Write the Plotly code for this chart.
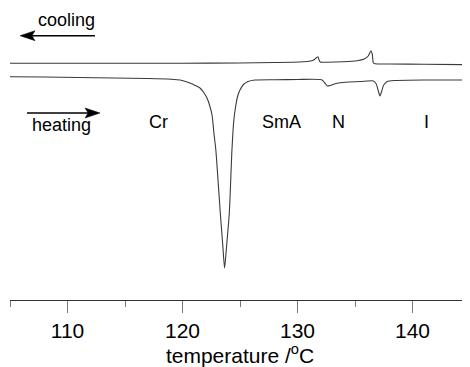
import plotly.graph_objects as go

# Heating run (DSC trace): temperature (°C) and heat-flow signal (arbitrary units)
heat_T = [105.0, 108.0, 111.0, 114.0, 117.0, 119.0, 119.8, 120.65, 121.2, 121.52, 121.85, 122.13,
          122.35, 122.57, 122.74, 122.9, 123.1, 123.3, 123.5, 123.66, 123.82, 124.07, 124.3,
          124.45, 124.6, 124.8, 125.0, 125.3, 125.7, 126.3, 128.0, 130.0, 132.1, 132.35,
          132.6, 132.85, 133.2, 133.7, 134.5, 135.5, 136.6, 136.85, 137.05, 137.17, 137.3,
          137.5, 137.8, 138.5, 141.0, 145.0]
heat_Q = [223.3, 223.0, 222.5, 222.0, 221.5, 220.8, 220.0, 217.0, 214.0, 212.0, 207.5, 202.0,
          195.0, 185.0, 166.0, 150.0, 118.0, 85.0, 55.0, 32.0, 52.0, 87.0, 150.0,
          178.0, 192.0, 204.0, 210.0, 215.5, 218.5, 220.0, 220.3, 220.5, 220.2, 217.5,
          214.0, 214.5, 216.0, 217.3, 218.0, 218.5, 219.0, 216.0, 208.0, 204.0, 208.0,
          215.0, 218.5, 219.5, 220.0, 220.0]

# Cooling run
cool_T = [105.0, 110.0, 120.0, 125.0, 128.0, 130.2, 131.0, 131.4, 131.65, 131.78, 131.88,
          131.98, 132.3, 134.0, 135.2, 135.8, 136.15, 136.39, 136.5, 136.6, 136.75, 138.0,
          141.0, 145.0]
cool_Q = [236.7, 236.8, 236.8, 237.0, 237.5, 238.0, 238.7, 240.0, 242.3, 243.3, 240.0,
          238.0, 237.8, 238.2, 239.3, 241.0, 244.0, 249.3, 246.0, 237.0, 236.2, 236.0,
          235.7, 235.3]

x_ticks = [110, 120, 130, 140]
x_ticklabels = ["110", "120", "130", "140"]

phase_labels = ["Cr", "SmA", "N", "I"]
phase_T = [117.95, 128.57, 133.6, 141.2]
phase_Q = [178, 178, 178, 178]

FONT = "Liberation Sans, Arial, sans-serif"
LINE = "#3a3a3a"
PX_X = 1 / 11.5  # data units of x per pixel
PX_Y = 1.0       # data units of y per pixel

fig = go.Figure()
fig.add_trace(go.Scatter(x=cool_T, y=cool_Q, mode="lines",
                         line=dict(color=LINE, width=1.1, shape="spline", smoothing=0.6),
                         hoverinfo="skip", showlegend=False))
fig.add_trace(go.Scatter(x=heat_T, y=heat_Q, mode="lines",
                         line=dict(color=LINE, width=1.1, shape="spline", smoothing=0.6),
                         hoverinfo="skip", showlegend=False))

annotations = []
for lab, tx, ty in zip(phase_labels, phase_T, phase_Q):
    annotations.append(dict(x=tx, y=ty, xref="x", yref="y", text=lab, showarrow=False,
                            font=dict(family=FONT, size=18, color="black")))
annotations.append(dict(x=109.9, y=280, xref="x", yref="y", text="cooling", showarrow=False,
                        font=dict(family=FONT, size=18, color="black")))
annotations.append(dict(x=109.5, y=175, xref="x", yref="y", text="heating", showarrow=False,
                        font=dict(family=FONT, size=18, color="black")))


def arrow(x_tip, x_tail, y, head_len=15, head_half=5, notch=3):
    d = 1 if x_tail > x_tip else -1
    xb = x_tip + d * head_len * PX_X
    xn = x_tip + d * (head_len - notch) * PX_X
    line = dict(type="line", xref="x", yref="y", x0=xn, x1=x_tail, y0=y, y1=y,
                line=dict(color="black", width=1.6))
    head = dict(type="path", xref="x", yref="y",
                path=f"M {x_tip},{y} L {xb},{y + head_half * PX_Y} L {xn},{y} "
                     f"L {xb},{y - head_half * PX_Y} Z",
                fillcolor="black", line=dict(color="black", width=0.5))
    return [line, head]


shapes = arrow(105.87, 112.39, 264.3) + arrow(112.83, 106.48, 187.0)

# page body has an 8px default margin, so the figure is sized to fit the window
fig.update_layout(
    width=462, height=359,
    margin=dict(l=2, r=0, t=0, b=67),
    paper_bgcolor="white", plot_bgcolor="white",
    annotations=annotations, shapes=shapes,
    font=dict(family=FONT, color="black"),
)
fig.update_xaxes(range=[105, 145], showgrid=False, zeroline=False,
                 showline=True, linecolor="#333", linewidth=1.2,
                 ticks="outside", ticklen=12, tickwidth=1, tickcolor="#777",
                 tickvals=x_ticks, ticktext=x_ticklabels,
                 tickfont=dict(family=FONT, size=21, color="black"),
                 minor=dict(tickvals=[105, 115, 125, 135, 145], ticks="outside", ticklen=6,
                            tickcolor="#777", tickwidth=1, showgrid=False),
                 title=dict(text="temperature /<sup>o</sup>C", standoff=3,
                            font=dict(family=FONT, size=21, color="black")))
fig.update_yaxes(range=[0, 292], visible=False, showgrid=False, zeroline=False)

fig.write_html("out.html")
